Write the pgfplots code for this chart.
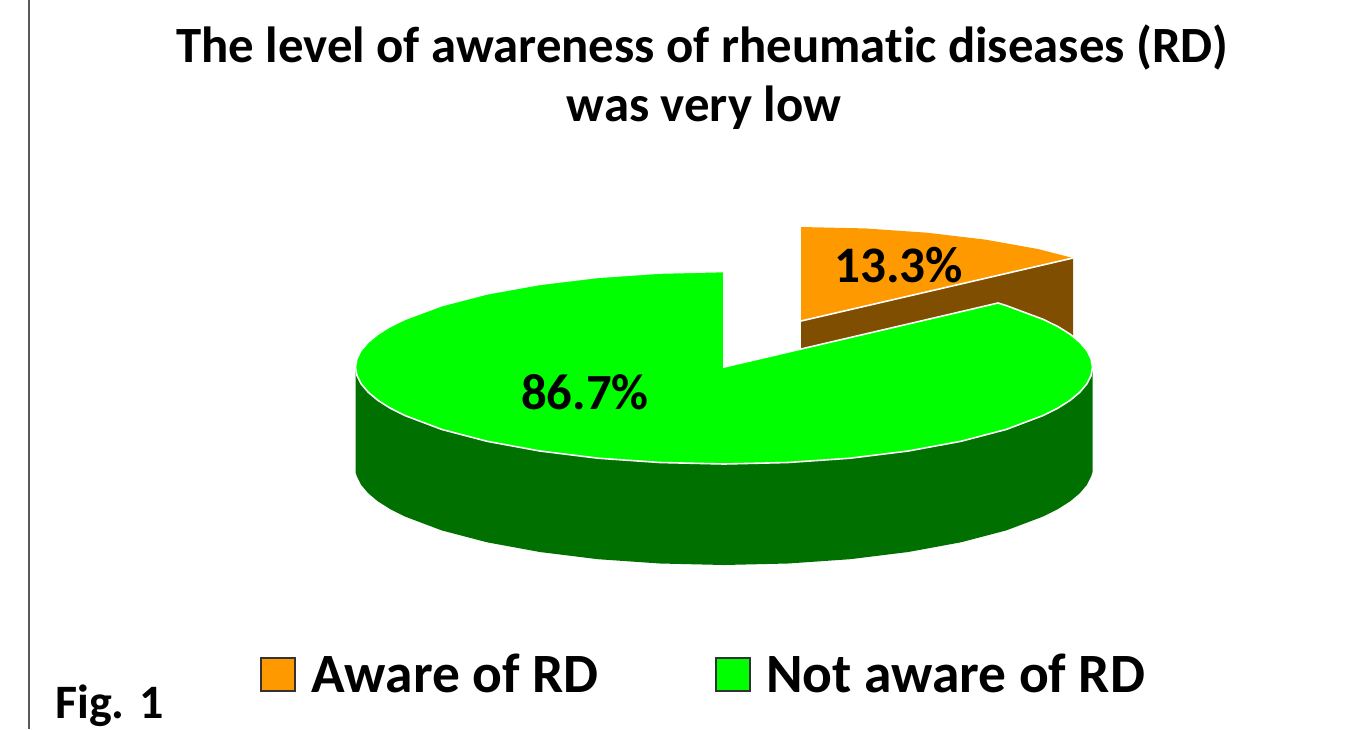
\documentclass[border=0pt]{standalone}
\usepackage{fontspec}
\setmainfont[Ligatures=CommonOff]{Carlito}
\usepackage{pgfplots}
\pgfplotsset{compat=1.18}
\definecolor{pieorange}{HTML}{FF9900}
\definecolor{piebrown}{HTML}{804E00}
\definecolor{piegreen}{HTML}{00FF00}
\definecolor{piedark}{HTML}{007000}
\definecolor{frameline}{HTML}{595959}
\begin{document}
\begin{tikzpicture}
\useasboundingbox (0,0) rectangle (1011pt,546.75pt);
\begin{axis}[
    at={(0,0)},
    anchor=south west,
    width=1011pt,
    height=546.75pt,
    scale only axis,
    hide axis,
    clip=false,
    xmin=0, xmax=1348,
    ymin=0, ymax=729,
    y dir=reverse,
]
% frame line at the left
\addplot[frameline, line width=1.8pt] coordinates {(29,0) (29,729)};

% orange slice, pulled out: side first, then top
\addplot[fill=piebrown, draw=none] coordinates {
    (801,321) (1073,258) (1073,345) (801,408)} -- cycle;
\addplot[fill=pieorange, draw=none] coordinates {
    (801,227) (865,228.4) (927,232.7) (985.3,239.6) (1037.9,249) (1073,258) (801,321)} -- cycle;
\addplot[white, line width=1.2pt] coordinates {(801,321) (1073,258)};

% green slice: rim
\addplot[fill=piedark, draw=none] coordinates {
    (355.5,367) (355.5,472) (356.9,476.5) (361.1,484.8) (368.1,493.1) (377.7,501.2)
    (390,509) (404.9,516.5) (441.7,530.4) (487.1,542.3) (539.8,552) (598,559.2)
    (660,563.5) (724,565) (788,563.5) (850,559.2) (908.3,552) (960.9,542.3)
    (1006.3,530.4) (1043.1,516.5) (1058,509) (1070.3,501.2) (1079.9,493.1)
    (1086.9,484.8) (1091.1,476.5) (1092.5,472) (1092.5,367)} -- cycle;
% green slice: top
\addplot[fill=piegreen, draw=white, line width=1.2pt] coordinates {
    (724,367) (724,271.5) (660,273) (598,277.3) (539.8,284.3) (487.1,293.8)
    (441.7,305.6) (404.9,319.3) (390,326.6) (377.7,334.3) (368.1,342.3) (361.1,350.4)
    (356.9,358.7) (355.5,367) (356.9,375.5) (361.1,383.8) (368.1,392.1) (377.7,400.2)
    (390,408) (404.9,415.5) (441.7,429.4) (487.1,441.3) (539.8,451) (598,458.2)
    (660,462.5) (724,464) (788,462.5) (850,458.2) (908.3,451) (960.9,441.3)
    (1006.3,429.4) (1043.1,415.5) (1058,408) (1070.3,400.2) (1079.9,392.1)
    (1086.9,383.8) (1091.1,375.5) (1092.5,367) (1091.1,358.7) (1086.9,350.4)
    (1079.9,342.3) (1070.3,334.3) (1058,326.6) (1043.1,319.3) (1006.3,305.6) (998,303)} -- cycle;

% legend swatches
\addplot[fill=pieorange, draw=black!80, line width=0.8pt] coordinates {
    (261,658) (295,658) (295,691) (261,691)} -- cycle;
\addplot[fill=piegreen, draw=black!80, line width=0.8pt] coordinates {
    (716,658) (750,658) (750,691) (716,691)} -- cycle;

% title and labels
\node[anchor=base, font=\fontsize{38.1}{44}\selectfont\bfseries] at (axis cs:702.5,62) {The level of awareness of rheumatic diseases (RD)};
\node[anchor=base, font=\fontsize{38.1}{44}\selectfont\bfseries] at (axis cs:704,121) {was very low};
\node[anchor=base, font=\fontsize{38.4}{44}\selectfont\bfseries] at (axis cs:898.5,282) {13.3\%};
\node[anchor=base, font=\fontsize{38}{44}\selectfont\bfseries] at (axis cs:585,409) {86.7\%};
\node[anchor=base west, inner sep=0pt, font=\fontsize{41.6}{48}\selectfont\bfseries] at (axis cs:311,692) {Aware of RD};
\node[anchor=base west, inner sep=0pt, font=\fontsize{41.6}{48}\selectfont\bfseries] at (axis cs:766,692) {Not aware of RD};
\node[anchor=base west, inner sep=0pt, font=\fontsize{36}{40}\selectfont\bfseries] at (axis cs:55,718) {Fig. 1};
\end{axis}
\end{tikzpicture}
\end{document}
